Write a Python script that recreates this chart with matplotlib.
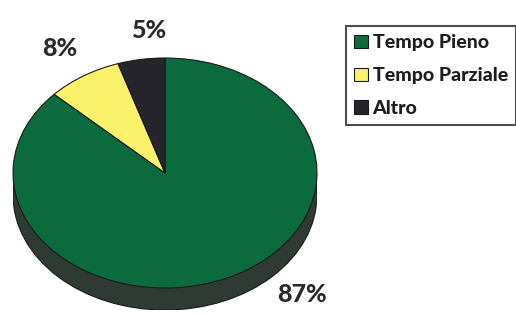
import matplotlib
matplotlib.use("Agg")
import matplotlib.pyplot as plt
from matplotlib.patches import Ellipse, Rectangle

# data
labels = ["Tempo Pieno", "Tempo Parziale", "Altro"]
shares = [87, 8, 5]
pct_labels = ["87%", "8%", "5%"]
colors = ["#0c6b3e", "#fbf26c", "#25252b"]
side_color = "#2e3a33"

W, H = 516, 316
fig = plt.figure(figsize=(W / 100, H / 100), dpi=100)
plt.rcParams["font.family"] = ["Lato", "DejaVu Sans"]

# pie axes: top face ellipse centre (165, 143 from bottom), semi axes 152 x 115 px
cx, cy, rx, ry = 165, 143, 152, 115
depth = 22 / ry
ax = fig.add_axes([(cx - rx) / W, (cy - ry - depth * ry) / H, 2 * rx / W, (2 + depth) * ry / H])

# side of the 3D pie
ax.add_patch(Rectangle((-1, -depth), 2, depth, facecolor=side_color, edgecolor="none", zorder=1))
ax.add_patch(Ellipse((0, -depth), 2, 2, facecolor=side_color, edgecolor="#1a1a1a", linewidth=0.8, zorder=1))

wedges, _ = ax.pie(shares, colors=colors, startangle=90, counterclock=False, radius=1,
                   wedgeprops=dict(edgecolor="#1a1a1a", linewidth=0.8))
for w in wedges:
    w.set_zorder(2)
ax.set_aspect("auto")
ax.set_xlim(-1, 1)
ax.set_ylim(-1 - depth, 1)
ax.axis("off")

# percentage labels (pixel positions from the top-left)
for txt, (px, py) in zip(pct_labels, [(302, 295), (60, 48), (149, 31)]):
    fig.text(px / W, 1 - py / H, txt, fontsize=18, fontweight="black", color="#2a2a2a",
             ha="center", va="center")

leg = fig.legend(wedges, labels, loc="upper left", bbox_to_anchor=(346 / W, 1 - 26 / H),
                 prop={"weight": "black", "size": 14}, frameon=True, fancybox=False,
                 handlelength=0.7, handleheight=0.7, handletextpad=0.25, labelspacing=0.82,
                 borderpad=0.42, borderaxespad=0)
leg.get_frame().set_edgecolor("#222222")
leg.get_frame().set_linewidth(1.5)
for t in leg.get_texts():
    t.set_color("#1e1e1e")

fig.savefig("out.png", dpi=100)
